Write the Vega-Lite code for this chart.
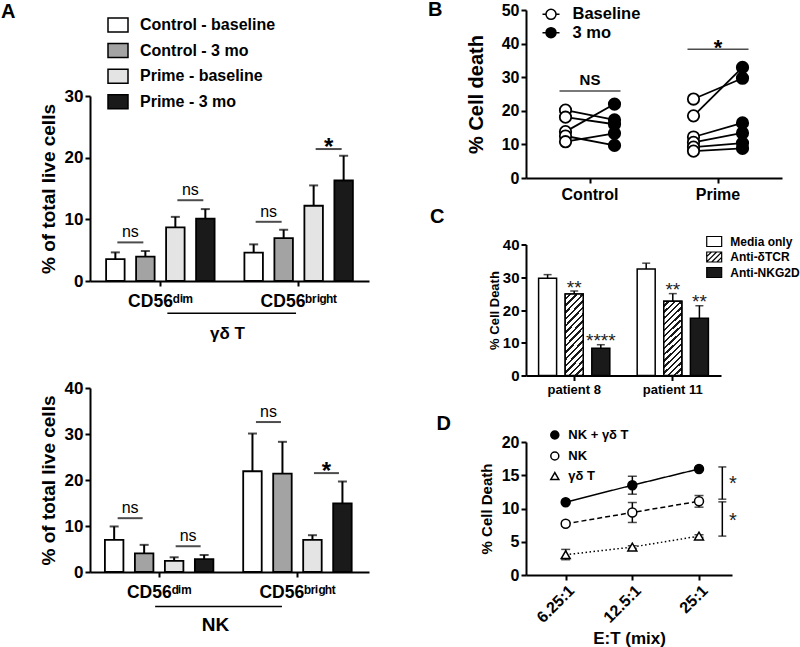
{
"$schema": "https://vega.github.io/schema/vega-lite/v6.json",
"background": "white",
"padding": {"left": 1, "top": 0, "right": 0, "bottom": 0},
"config": {
  "font": "Liberation Sans",
  "view": {"stroke": null},
  "axis": {"grid": false, "domainColor": "black", "domainWidth": 2, "tickColor": "black", "tickWidth": 2, "tickSize": 5, "labelFont": "Liberation Sans", "labelFontWeight": "bold", "labelColor": "black", "titleFont": "Liberation Sans", "titleFontWeight": "bold", "titleColor": "black", "labelPadding": 2, "labelOverlap": false},
  "legend": {"labelFont": "Liberation Sans", "labelFontWeight": "bold", "labelColor": "black", "padding": 0, "symbolStrokeColor": "black", "symbolStrokeWidth": 1.5, "symbolOpacity": 1},
  "title": {"font": "Liberation Sans", "fontWeight": "bold", "fontSize": 20, "color": "black", "anchor": "start", "frame": "group"}
},
"datasets": {
  "aTop": [
    {"cell": "CD56dim", "group": "Control - baseline", "mean": 3.56, "upper": 4.64},
    {"cell": "CD56dim", "group": "Control - 3 mo", "mean": 3.94, "upper": 4.86},
    {"cell": "CD56dim", "group": "Prime - baseline", "mean": 8.69, "upper": 10.4},
    {"cell": "CD56dim", "group": "Prime - 3 mo", "mean": 10.1, "upper": 11.66},
    {"cell": "CD56bright", "group": "Control - baseline", "mean": 4.59, "upper": 5.94},
    {"cell": "CD56bright", "group": "Control - 3 mo", "mean": 6.96, "upper": 8.31},
    {"cell": "CD56bright", "group": "Prime - baseline", "mean": 12.2, "upper": 15.5},
    {"cell": "CD56bright", "group": "Prime - 3 mo", "mean": 16.3, "upper": 20.3}
  ],
  "aTopSig": [
    {"cell": "CD56dim", "pair": "1v2", "y": 6.26, "label": "ns"},
    {"cell": "CD56dim", "pair": "3v4", "y": 13.1, "label": "ns"},
    {"cell": "CD56bright", "pair": "1v2", "y": 9.6, "label": "ns"},
    {"cell": "CD56bright", "pair": "3v4", "y": 21.4, "label": "*"}
  ],
  "aBot": [
    {"cell": "CD56dim", "group": "Control - baseline", "mean": 7.0, "upper": 9.9},
    {"cell": "CD56dim", "group": "Control - 3 mo", "mean": 4.06, "upper": 5.9},
    {"cell": "CD56dim", "group": "Prime - baseline", "mean": 2.4, "upper": 3.2},
    {"cell": "CD56dim", "group": "Prime - 3 mo", "mean": 2.8, "upper": 3.7},
    {"cell": "CD56bright", "group": "Control - baseline", "mean": 21.9, "upper": 30.1},
    {"cell": "CD56bright", "group": "Control - 3 mo", "mean": 21.4, "upper": 28.3},
    {"cell": "CD56bright", "group": "Prime - baseline", "mean": 7.0, "upper": 8.0},
    {"cell": "CD56bright", "group": "Prime - 3 mo", "mean": 14.9, "upper": 19.7}
  ],
  "aBotSig": [
    {"cell": "CD56dim", "pair": "1v2", "y": 11.7, "label": "ns"},
    {"cell": "CD56dim", "pair": "3v4", "y": 5.6, "label": "ns"},
    {"cell": "CD56bright", "pair": "1v2", "y": 32.6, "label": "ns"},
    {"cell": "CD56bright", "pair": "3v4", "y": 21.5, "label": "*"}
  ],
  "bData": [
    {"group": "Control", "time": "Baseline", "pair": "c1", "value": 20.2},
    {"group": "Control", "time": "3 mo", "pair": "c1", "value": 17.3},
    {"group": "Control", "time": "Baseline", "pair": "c2", "value": 18.1},
    {"group": "Control", "time": "3 mo", "pair": "c2", "value": 16.0},
    {"group": "Control", "time": "Baseline", "pair": "c3", "value": 13.8},
    {"group": "Control", "time": "3 mo", "pair": "c3", "value": 22.0},
    {"group": "Control", "time": "Baseline", "pair": "c4", "value": 12.5},
    {"group": "Control", "time": "3 mo", "pair": "c4", "value": 9.7},
    {"group": "Control", "time": "Baseline", "pair": "c5", "value": 10.8},
    {"group": "Control", "time": "3 mo", "pair": "c5", "value": 13.3},
    {"group": "Prime", "time": "Baseline", "pair": "p1", "value": 23.5},
    {"group": "Prime", "time": "3 mo", "pair": "p1", "value": 29.7},
    {"group": "Prime", "time": "Baseline", "pair": "p2", "value": 18.5},
    {"group": "Prime", "time": "3 mo", "pair": "p2", "value": 32.9},
    {"group": "Prime", "time": "Baseline", "pair": "p3", "value": 12.2},
    {"group": "Prime", "time": "3 mo", "pair": "p3", "value": 16.4},
    {"group": "Prime", "time": "Baseline", "pair": "p4", "value": 10.6},
    {"group": "Prime", "time": "3 mo", "pair": "p4", "value": 13.4},
    {"group": "Prime", "time": "Baseline", "pair": "p5", "value": 9.2},
    {"group": "Prime", "time": "3 mo", "pair": "p5", "value": 10.4},
    {"group": "Prime", "time": "Baseline", "pair": "p6", "value": 8.0},
    {"group": "Prime", "time": "3 mo", "pair": "p6", "value": 8.8}
  ],
  "bSig": [
    {"group": "Control", "y": 25.9, "label": "NS"},
    {"group": "Prime", "y": 38.3, "label": "*"}
  ],
  "cData": [
    {"patient": "patient 8", "treatment": "Media only", "mean": 29.7, "upper": 30.8, "sig": ""},
    {"patient": "patient 8", "treatment": "Anti-δTCR", "mean": 24.9, "upper": 25.8, "sig": "**"},
    {"patient": "patient 8", "treatment": "Anti-NKG2D", "mean": 8.35, "upper": 9.4, "sig": "****"},
    {"patient": "patient 11", "treatment": "Media only", "mean": 32.5, "upper": 34.3, "sig": ""},
    {"patient": "patient 11", "treatment": "Anti-δTCR", "mean": 22.7, "upper": 25.0, "sig": "**"},
    {"patient": "patient 11", "treatment": "Anti-NKG2D", "mean": 17.5, "upper": 21.3, "sig": "**"}
  ],
  "dData": [
    {"ratio": "6.25:1", "series": "NK + γδ T", "mean": 10.95, "lower": 10.7, "upper": 11.2},
    {"ratio": "12.5:1", "series": "NK + γδ T", "mean": 13.5, "lower": 12.15, "upper": 14.85},
    {"ratio": "25:1", "series": "NK + γδ T", "mean": 15.95, "lower": 15.75, "upper": 16.15},
    {"ratio": "6.25:1", "series": "NK", "mean": 7.7, "lower": 7.35, "upper": 8.05},
    {"ratio": "12.5:1", "series": "NK", "mean": 9.4, "lower": 7.9, "upper": 10.9},
    {"ratio": "25:1", "series": "NK", "mean": 11.1, "lower": 10.2, "upper": 11.95},
    {"ratio": "6.25:1", "series": "γδ T", "mean": 3.05, "lower": 2.3, "upper": 3.85},
    {"ratio": "12.5:1", "series": "γδ T", "mean": 4.2, "lower": 4.0, "upper": 4.4},
    {"ratio": "25:1", "series": "γδ T", "mean": 5.85, "lower": 5.65, "upper": 6.05}
  ],
  "dSig": [
    {"top": 16.25, "bottom": 11.4, "label": "*"},
    {"top": 11.0, "bottom": 5.85, "label": "*"}
  ]
},
"concat": [
  {
    "concat": [
      {
        "width": 279, "height": 1,
        "title": {"text": "A", "dx": -89, "offset": -11.8},
        "data": {"values": []},
        "mark": {"type": "point"},
        "encoding": {}
      },
      {
        "concat": [
          {
            "width": 279, "height": 185,
            "data": {"name": "aTop"},
            "resolve": {"scale": {"xOffset": "independent"}},
            "layer": [
              {
                "mark": {"type": "bar", "stroke": "black", "strokeWidth": 1.8},
                "encoding": {
                  "x": {"field": "cell", "type": "nominal", "sort": ["CD56dim", "CD56bright"], "scale": {"domain": ["CD56dim", "CD56bright"], "paddingInner": 0, "paddingOuter": 0.0087},
                        "axis": {"title": "γδ T", "titleFontSize": 17, "titlePadding": 16, "titleX": 137, "labelExpr": "datum.value === 'CD56dim' ? 'CD56ᵈⁱᵐ' : 'CD56ᵇʳⁱᵍʰᵗ'", "labelFontSize": 17.5, "labelPadding": 6, "labelAngle": 0, "labelOverlap": false}},
                  "xOffset": {"field": "group", "type": "nominal", "sort": ["Control - baseline", "Control - 3 mo", "Prime - baseline", "Prime - 3 mo"], "scale": {"type": "band", "paddingInner": 0.383, "paddingOuter": 0.497}},
                  "y": {"field": "mean", "type": "quantitative", "scale": {"domain": [0, 30]},
                        "axis": {"values": [0, 10, 20, 30], "tickCount": 10, "title": "% of total live cells", "titleFontSize": 19, "titlePadding": 6, "labelFontSize": 17, "labelOverlap": false}},
                  "fill": {"field": "group", "type": "nominal",
                           "scale": {"domain": ["Control - baseline", "Control - 3 mo", "Prime - baseline", "Prime - 3 mo"], "range": ["white", "#a3a3a3", "#e4e4e4", "#1a1a1a"]},
                           "legend": {"title": null, "orient": "none", "legendX": 17, "legendY": -82, "symbolType": "M-1,-0.7H1V0.7H-1Z", "symbolSize": 400, "labelFontSize": 16, "labelOffset": 11, "rowPadding": 4.6}}
                }
              },
              {
                "mark": {"type": "rule", "color": "black", "strokeWidth": 2},
                "encoding": {
                  "x": {"field": "cell", "type": "nominal", "sort": ["CD56dim", "CD56bright"]},
                  "xOffset": {"field": "group", "type": "nominal", "sort": ["Control - baseline", "Control - 3 mo", "Prime - baseline", "Prime - 3 mo"], "scale": {"type": "band", "paddingInner": 0.383, "paddingOuter": 0.497}},
                  "y": {"field": "mean", "type": "quantitative"},
                  "y2": {"field": "upper"}
                }
              },
              {
                "mark": {"type": "tick", "orient": "horizontal", "size": 9, "thickness": 2, "color": "black"},
                "encoding": {
                  "x": {"field": "cell", "type": "nominal", "sort": ["CD56dim", "CD56bright"]},
                  "xOffset": {"field": "group", "type": "nominal", "sort": ["Control - baseline", "Control - 3 mo", "Prime - baseline", "Prime - 3 mo"], "scale": {"type": "band", "paddingInner": 0.383, "paddingOuter": 0.497}},
                  "y": {"field": "upper", "type": "quantitative"}
                }
              },
              {
                "data": {"name": "aTopSig"},
                "mark": {"type": "tick", "orient": "horizontal", "size": 26, "thickness": 2, "color": "black"},
                "encoding": {
                  "x": {"field": "cell", "type": "nominal", "sort": ["CD56dim", "CD56bright"]},
                  "xOffset": {"field": "pair", "type": "nominal", "scale": {"type": "band", "domain": ["1v2", "3v4"], "paddingInner": 0, "paddingOuter": 0.1525}},
                  "y": {"field": "y", "type": "quantitative"}
                }
              },
              {
                "data": {"name": "aTopSig"},
                "transform": [{"filter": "datum.label === 'ns'"}],
                "mark": {"type": "text", "fontSize": 16, "baseline": "alphabetic", "dy": -5, "color": "black"},
                "encoding": {
                  "x": {"field": "cell", "type": "nominal", "sort": ["CD56dim", "CD56bright"]},
                  "xOffset": {"field": "pair", "type": "nominal", "scale": {"type": "band", "domain": ["1v2", "3v4"], "paddingInner": 0, "paddingOuter": 0.1525}},
                  "y": {"field": "y", "type": "quantitative"},
                  "text": {"field": "label"}
                }
              },
              {
                "data": {"name": "aTopSig"},
                "transform": [{"filter": "datum.label === '*'"}],
                "mark": {"type": "text", "fontSize": 24, "fontWeight": "bold", "baseline": "alphabetic", "dy": 6, "color": "black"},
                "encoding": {
                  "x": {"field": "cell", "type": "nominal", "sort": ["CD56dim", "CD56bright"]},
                  "xOffset": {"field": "pair", "type": "nominal", "scale": {"type": "band", "domain": ["1v2", "3v4"], "paddingInner": 0, "paddingOuter": 0.1525}},
                  "y": {"field": "y", "type": "quantitative"},
                  "text": {"field": "label"}
                }
              },
              {
                "data": {"values": [{"subset": "γδ T"}]},
                "mark": {"type": "rule", "color": "black", "strokeWidth": 1.5, "xOffset": 7, "x2Offset": -2.6},
                "encoding": {
                  "x": {"datum": "CD56dim", "type": "nominal"},
                  "x2": {"datum": "CD56bright"},
                  "y": {"datum": -5.23, "type": "quantitative"}
                }
              }
            ]
          },
          {
            "width": 279, "height": 184,
            "data": {"name": "aBot"},
            "resolve": {"scale": {"xOffset": "independent"}},
            "layer": [
              {
                "mark": {"type": "bar", "stroke": "black", "strokeWidth": 1.8},
                "encoding": {
                  "x": {"field": "cell", "type": "nominal", "sort": ["CD56dim", "CD56bright"], "scale": {"domain": ["CD56dim", "CD56bright"], "paddingInner": 0, "paddingOuter": 0.0087, "align": 0},
                        "axis": {"title": "NK", "titleFontSize": 19, "titlePadding": 15, "titleX": 125, "labelExpr": "datum.value === 'CD56dim' ? 'CD56ᵈⁱᵐ' : 'CD56ᵇʳⁱᵍʰᵗ'", "labelFontSize": 17.5, "labelPadding": 6, "labelAngle": 0, "labelOverlap": false}},
                  "xOffset": {"field": "group", "type": "nominal", "sort": ["Control - baseline", "Control - 3 mo", "Prime - baseline", "Prime - 3 mo"], "scale": {"type": "band", "paddingInner": 0.383, "paddingOuter": 0.497}},
                  "y": {"field": "mean", "type": "quantitative", "scale": {"domain": [0, 40]},
                        "axis": {"values": [0, 10, 20, 30, 40], "tickCount": 10, "title": "% of total live cells", "titleFontSize": 19, "titlePadding": 6, "labelFontSize": 17, "labelOverlap": false}},
                  "fill": {"field": "group", "type": "nominal",
                           "scale": {"domain": ["Control - baseline", "Control - 3 mo", "Prime - baseline", "Prime - 3 mo"], "range": ["white", "#a3a3a3", "#e4e4e4", "#1a1a1a"]},
                           "legend": null}
                }
              },
              {
                "mark": {"type": "rule", "color": "black", "strokeWidth": 2},
                "encoding": {
                  "x": {"field": "cell", "type": "nominal", "sort": ["CD56dim", "CD56bright"]},
                  "xOffset": {"field": "group", "type": "nominal", "sort": ["Control - baseline", "Control - 3 mo", "Prime - baseline", "Prime - 3 mo"], "scale": {"type": "band", "paddingInner": 0.383, "paddingOuter": 0.497}},
                  "y": {"field": "mean", "type": "quantitative"},
                  "y2": {"field": "upper"}
                }
              },
              {
                "mark": {"type": "tick", "orient": "horizontal", "size": 9, "thickness": 2, "color": "black"},
                "encoding": {
                  "x": {"field": "cell", "type": "nominal", "sort": ["CD56dim", "CD56bright"]},
                  "xOffset": {"field": "group", "type": "nominal", "sort": ["Control - baseline", "Control - 3 mo", "Prime - baseline", "Prime - 3 mo"], "scale": {"type": "band", "paddingInner": 0.383, "paddingOuter": 0.497}},
                  "y": {"field": "upper", "type": "quantitative"}
                }
              },
              {
                "data": {"name": "aBotSig"},
                "mark": {"type": "tick", "orient": "horizontal", "size": 25, "thickness": 2, "color": "black"},
                "encoding": {
                  "x": {"field": "cell", "type": "nominal", "sort": ["CD56dim", "CD56bright"]},
                  "xOffset": {"field": "pair", "type": "nominal", "scale": {"type": "band", "domain": ["1v2", "3v4"], "paddingInner": 0, "paddingOuter": 0.192}},
                  "y": {"field": "y", "type": "quantitative"}
                }
              },
              {
                "data": {"name": "aBotSig"},
                "transform": [{"filter": "datum.label === 'ns'"}],
                "mark": {"type": "text", "fontSize": 16, "baseline": "alphabetic", "dy": -5, "color": "black"},
                "encoding": {
                  "x": {"field": "cell", "type": "nominal", "sort": ["CD56dim", "CD56bright"]},
                  "xOffset": {"field": "pair", "type": "nominal", "scale": {"type": "band", "domain": ["1v2", "3v4"], "paddingInner": 0, "paddingOuter": 0.192}},
                  "y": {"field": "y", "type": "quantitative"},
                  "text": {"field": "label"}
                }
              },
              {
                "data": {"name": "aBotSig"},
                "transform": [{"filter": "datum.label === '*'"}],
                "mark": {"type": "text", "fontSize": 24, "fontWeight": "bold", "baseline": "alphabetic", "dy": 6, "color": "black"},
                "encoding": {
                  "x": {"field": "cell", "type": "nominal", "sort": ["CD56dim", "CD56bright"]},
                  "xOffset": {"field": "pair", "type": "nominal", "scale": {"type": "band", "domain": ["1v2", "3v4"], "paddingInner": 0, "paddingOuter": 0.192}},
                  "y": {"field": "y", "type": "quantitative"},
                  "text": {"field": "label"}
                }
              },
              {
                "data": {"values": [{"subset": "NK"}]},
                "mark": {"type": "rule", "color": "black", "strokeWidth": 1.5, "xOffset": -4, "x2Offset": -15.5},
                "encoding": {
                  "x": {"datum": "CD56dim", "type": "nominal"},
                  "x2": {"datum": "CD56bright"},
                  "y": {"datum": -7.48, "type": "quantitative"}
                }
              }
            ]
          }
        ],
        "columns": 1,
        "bounds": "flush",
        "spacing": 107,
        "resolve": {"scale": {"fill": "independent", "xOffset": "independent", "shape": "independent", "strokeDash": "independent"}}
      }
    ],
    "columns": 1,
    "bounds": "flush",
    "spacing": 85,
    "resolve": {"scale": {"fill": "independent", "xOffset": "independent", "shape": "independent", "strokeDash": "independent"}}
  },
  {
    "concat": [
      {
        "width": 256, "height": 168,
        "title": {"text": "B", "dx": -98, "offset": -18.2},
        "data": {"name": "bData"},
        "layer": [
          {
            "mark": {"type": "line", "color": "black", "strokeWidth": 1.8},
            "encoding": {
              "x": {"field": "group", "type": "nominal", "sort": ["Control", "Prime"], "scale": {"domain": ["Control", "Prime"], "paddingInner": 0, "paddingOuter": 0},
                    "axis": {"title": null, "labelFontSize": 16, "labelPadding": 3, "labelAngle": 0, "labelOverlap": false}},
              "xOffset": {"field": "time", "type": "nominal", "sort": ["Baseline", "3 mo"], "scale": {"type": "band", "paddingInner": 0, "paddingOuter": 0.306}},
              "y": {"field": "value", "type": "quantitative", "scale": {"domain": [0, 50]},
                    "axis": {"values": [0, 10, 20, 30, 40, 50], "tickCount": 10, "title": "% Cell death", "titleFontSize": 20, "titlePadding": 15, "labelFontSize": 16, "labelOverlap": false}},
              "detail": {"field": "pair", "type": "nominal"}
            }
          },
          {
            "mark": {"type": "point", "filled": true, "size": 130, "stroke": "black", "strokeWidth": 1.8, "opacity": 1},
            "encoding": {
              "x": {"field": "group", "type": "nominal", "sort": ["Control", "Prime"]},
              "xOffset": {"field": "time", "type": "nominal", "sort": ["Baseline", "3 mo"], "scale": {"type": "band", "paddingInner": 0, "paddingOuter": 0.306}},
              "y": {"field": "value", "type": "quantitative"},
              "fill": {"field": "time", "type": "nominal", "scale": {"domain": ["Baseline", "3 mo"], "range": ["white", "black"]},
                       "legend": {"title": null, "orient": "none", "legendX": 15.5, "legendY": -5.2, "symbolType": "M-1,0H-0.59M0.59,0H1M-0.59,0A0.59,0.59,0,1,0,0.59,0A0.59,0.59,0,1,0,-0.59,0Z", "symbolSize": 289, "labelFontSize": 16.5, "labelOffset": 12, "rowPadding": 0.4}}
            }
          },
          {
            "data": {"name": "bSig"},
            "mark": {"type": "tick", "orient": "horizontal", "size": 61, "thickness": 1.5, "color": "black"},
            "encoding": {
              "x": {"field": "group", "type": "nominal", "sort": ["Control", "Prime"]},
              "y": {"field": "y", "type": "quantitative"}
            }
          },
          {
            "data": {"name": "bSig"},
            "transform": [{"filter": "datum.label === 'NS'"}],
            "mark": {"type": "text", "fontSize": 15, "fontWeight": "bold", "baseline": "alphabetic", "dy": -5.7, "color": "black"},
            "encoding": {
              "x": {"field": "group", "type": "nominal", "sort": ["Control", "Prime"]},
              "y": {"field": "y", "type": "quantitative"},
              "text": {"field": "label"}
            }
          },
          {
            "data": {"name": "bSig"},
            "transform": [{"filter": "datum.label === '*'"}],
            "mark": {"type": "text", "fontSize": 22, "fontWeight": "bold", "baseline": "alphabetic", "dy": 5.7, "color": "black"},
            "encoding": {
              "x": {"field": "group", "type": "nominal", "sort": ["Control", "Prime"]},
              "y": {"field": "y", "type": "quantitative"},
              "text": {"field": "label"}
            }
          }
        ]
      },
      {
        "width": 195, "height": 131,
        "title": {"text": "C", "dx": -96, "offset": 7},
        "data": {"name": "cData"},
        "layer": [
          {
            "mark": {"type": "bar", "stroke": "black", "strokeWidth": 1.5},
            "encoding": {
              "x": {"field": "patient", "type": "nominal", "sort": ["patient 8", "patient 11"], "scale": {"domain": ["patient 8", "patient 11"], "paddingInner": 0.022, "paddingOuter": 0},
                    "axis": {"title": null, "labelFontSize": 13, "labelPadding": 3, "labelAngle": 0, "labelOverlap": false}},
              "xOffset": {"field": "treatment", "type": "nominal", "sort": ["Media only", "Anti-δTCR", "Anti-NKG2D"], "scale": {"type": "band", "paddingInner": 0.323, "paddingOuter": 0.4735}},
              "y": {"field": "mean", "type": "quantitative", "scale": {"domain": [0, 40]},
                    "axis": {"values": [0, 10, 20, 30, 40], "tickCount": 10, "title": "% Cell Death", "titleFontSize": 13, "titlePadding": 1, "labelFontSize": 15, "labelOverlap": false}},
              "fill": {"field": "treatment", "type": "nominal", "scale": {"domain": ["Media only", "Anti-δTCR", "Anti-NKG2D"], "range": ["white", "white", "#1a1a1a"]},
                       "legend": {"title": null, "orient": "none", "legendX": 180.7, "legendY": -10.5, "symbolType": "M-1.15,-0.77H1.15V0.77H-1.15Z", "symbolSize": 169, "symbolFillColor": "white", "symbolStrokeColor": "black", "labelFontSize": 12, "labelOffset": 8.6, "rowPadding": 0.5, "symbolStrokeWidth": 1.2}}
            }
          },
          {
            "transform": [{"filter": "datum.treatment === 'Anti-δTCR'"}],
            "mark": {"type": "bar", "stroke": "black", "strokeWidth": 1.5,
                     "fill": {"gradient": "linear", "x1": 0, "y1": 0, "x2": 0.27, "y2": 1.169, "stops": [
                       {"offset": 0, "color": "white"}, {"offset": 0.0413, "color": "white"}, {"offset": 0.0413, "color": "#1a1a1a"}, {"offset": 0.0667, "color": "#1a1a1a"},
                       {"offset": 0.0667, "color": "white"}, {"offset": 0.108, "color": "white"}, {"offset": 0.108, "color": "#1a1a1a"}, {"offset": 0.1333, "color": "#1a1a1a"},
                       {"offset": 0.1333, "color": "white"}, {"offset": 0.1747, "color": "white"}, {"offset": 0.1747, "color": "#1a1a1a"}, {"offset": 0.2, "color": "#1a1a1a"},
                       {"offset": 0.2, "color": "white"}, {"offset": 0.2413, "color": "white"}, {"offset": 0.2413, "color": "#1a1a1a"}, {"offset": 0.2667, "color": "#1a1a1a"},
                       {"offset": 0.2667, "color": "white"}, {"offset": 0.308, "color": "white"}, {"offset": 0.308, "color": "#1a1a1a"}, {"offset": 0.3333, "color": "#1a1a1a"},
                       {"offset": 0.3333, "color": "white"}, {"offset": 0.3747, "color": "white"}, {"offset": 0.3747, "color": "#1a1a1a"}, {"offset": 0.4, "color": "#1a1a1a"},
                       {"offset": 0.4, "color": "white"}, {"offset": 0.4413, "color": "white"}, {"offset": 0.4413, "color": "#1a1a1a"}, {"offset": 0.4667, "color": "#1a1a1a"},
                       {"offset": 0.4667, "color": "white"}, {"offset": 0.508, "color": "white"}, {"offset": 0.508, "color": "#1a1a1a"}, {"offset": 0.5333, "color": "#1a1a1a"},
                       {"offset": 0.5333, "color": "white"}, {"offset": 0.5747, "color": "white"}, {"offset": 0.5747, "color": "#1a1a1a"}, {"offset": 0.6, "color": "#1a1a1a"},
                       {"offset": 0.6, "color": "white"}, {"offset": 0.6413, "color": "white"}, {"offset": 0.6413, "color": "#1a1a1a"}, {"offset": 0.6667, "color": "#1a1a1a"},
                       {"offset": 0.6667, "color": "white"}, {"offset": 0.708, "color": "white"}, {"offset": 0.708, "color": "#1a1a1a"}, {"offset": 0.7333, "color": "#1a1a1a"},
                       {"offset": 0.7333, "color": "white"}, {"offset": 0.7747, "color": "white"}, {"offset": 0.7747, "color": "#1a1a1a"}, {"offset": 0.8, "color": "#1a1a1a"},
                       {"offset": 0.8, "color": "white"}, {"offset": 0.8413, "color": "white"}, {"offset": 0.8413, "color": "#1a1a1a"}, {"offset": 0.8667, "color": "#1a1a1a"},
                       {"offset": 0.8667, "color": "white"}, {"offset": 0.908, "color": "white"}, {"offset": 0.908, "color": "#1a1a1a"}, {"offset": 0.9333, "color": "#1a1a1a"},
                       {"offset": 0.9333, "color": "white"}, {"offset": 0.9747, "color": "white"}, {"offset": 0.9747, "color": "#1a1a1a"}, {"offset": 1, "color": "#1a1a1a"}]}},
            "encoding": {
              "x": {"field": "patient", "type": "nominal", "sort": ["patient 8", "patient 11"]},
              "xOffset": {"field": "treatment", "type": "nominal", "sort": ["Media only", "Anti-δTCR", "Anti-NKG2D"], "scale": {"type": "band", "paddingInner": 0.323, "paddingOuter": 0.4735}},
              "y": {"field": "mean", "type": "quantitative"}
            }
          },
          {
            "mark": {"type": "point", "size": 0, "opacity": 0, "filled": true},
            "encoding": {
              "x": {"field": "patient", "type": "nominal", "sort": ["patient 8", "patient 11"]},
              "xOffset": {"field": "treatment", "type": "nominal", "sort": ["Media only", "Anti-δTCR", "Anti-NKG2D"], "scale": {"type": "band", "paddingInner": 0.323, "paddingOuter": 0.4735}},
              "y": {"field": "mean", "type": "quantitative"},
              "fill": {"field": "treatment", "type": "nominal",
                       "legend": {"title": null, "orient": "none", "legendX": 180.7, "legendY": -10.5, "symbolType": "M-1.15,-0.77H1.15V0.77H-1.15Z", "symbolSize": 169, "symbolFillColor": "white", "symbolStrokeColor": "black", "labelFontSize": 12, "labelOffset": 8.6, "rowPadding": 0.5, "symbolStrokeWidth": 1.2}},
              "shape": {"field": "treatment", "type": "nominal",
                        "scale": {"domain": ["Media only", "Anti-δTCR", "Anti-NKG2D"], "range": ["M-1.15,-0.77H1.15V0.77H-1.15Z", "M-1.15,-0.77H1.15V0.77H-1.15ZM-1.15,-0.05L-0.43,-0.77M-1.15,0.75L0.37,-0.77M-0.37,0.77L1.15,-0.75M0.43,0.77L1.15,0.05", "M-1.15,-0.77H1.15V0.77H-1.15Z"]},
                        "legend": {"title": null, "orient": "none", "legendX": 180.7, "legendY": -10.5, "symbolType": "M-1.15,-0.77H1.15V0.77H-1.15Z", "symbolSize": 169, "symbolFillColor": "white", "symbolStrokeColor": "black", "labelFontSize": 12, "labelOffset": 8.6, "rowPadding": 0.5, "symbolStrokeWidth": 1.2}}
            }
          },
          {
            "mark": {"type": "rule", "color": "black", "strokeWidth": 1.5},
            "encoding": {
              "x": {"field": "patient", "type": "nominal", "sort": ["patient 8", "patient 11"]},
              "xOffset": {"field": "treatment", "type": "nominal", "sort": ["Media only", "Anti-δTCR", "Anti-NKG2D"], "scale": {"type": "band", "paddingInner": 0.323, "paddingOuter": 0.4735}},
              "y": {"field": "mean", "type": "quantitative"},
              "y2": {"field": "upper"}
            }
          },
          {
            "mark": {"type": "tick", "orient": "horizontal", "size": 8, "thickness": 1.5, "color": "black"},
            "encoding": {
              "x": {"field": "patient", "type": "nominal", "sort": ["patient 8", "patient 11"]},
              "xOffset": {"field": "treatment", "type": "nominal", "sort": ["Media only", "Anti-δTCR", "Anti-NKG2D"], "scale": {"type": "band", "paddingInner": 0.323, "paddingOuter": 0.4735}},
              "y": {"field": "upper", "type": "quantitative"}
            }
          },
          {
            "transform": [{"filter": "datum.sig !== ''"}],
            "mark": {"type": "text", "fontSize": 19, "baseline": "alphabetic", "dy": 2.7, "color": "#222222"},
            "encoding": {
              "x": {"field": "patient", "type": "nominal", "sort": ["patient 8", "patient 11"]},
              "xOffset": {"field": "treatment", "type": "nominal", "sort": ["Media only", "Anti-δTCR", "Anti-NKG2D"], "scale": {"type": "band", "paddingInner": 0.323, "paddingOuter": 0.4735}},
              "y": {"field": "upper", "type": "quantitative"},
              "text": {"field": "sig"}
            }
          }
        ]
      },
      {
        "width": 206, "height": 133,
        "title": {"text": "D", "dx": -89.5, "offset": -5.5},
        "data": {"name": "dData"},
        "layer": [
          {
            "mark": {"type": "line", "color": "black", "strokeWidth": 1.5},
            "encoding": {
              "x": {"field": "ratio", "type": "ordinal", "sort": ["6.25:1", "12.5:1", "25:1"], "scale": {"type": "point", "domain": ["6.25:1", "12.5:1", "25:1"], "padding": 0.545, "align": 0.546},
                    "axis": {"title": "E:T (mix)", "titleFontSize": 17, "titlePadding": 5, "labelAngle": -45, "labelFontSize": 16, "labelPadding": 2, "labelOverlap": false}},
              "y": {"field": "mean", "type": "quantitative", "scale": {"domain": [0, 20]},
                    "axis": {"values": [0, 5, 10, 15, 20], "tickCount": 10, "title": "% Cell Death", "titleFontSize": 15, "titlePadding": 7, "labelFontSize": 16, "labelOverlap": false}},
              "strokeDash": {"field": "series", "type": "nominal", "scale": {"domain": ["NK", "NK + γδ T", "γδ T"], "range": [[5, 3], [1, 0], [1.5, 2.5]]}, "legend": null}
            }
          },
          {
            "mark": {"type": "rule", "color": "black", "strokeWidth": 1.5},
            "encoding": {
              "x": {"field": "ratio", "type": "ordinal", "sort": ["6.25:1", "12.5:1", "25:1"]},
              "y": {"field": "lower", "type": "quantitative"},
              "y2": {"field": "upper"}
            }
          },
          {
            "mark": {"type": "tick", "orient": "horizontal", "size": 9, "thickness": 1.5, "color": "black"},
            "encoding": {
              "x": {"field": "ratio", "type": "ordinal", "sort": ["6.25:1", "12.5:1", "25:1"]},
              "y": {"field": "upper", "type": "quantitative"}
            }
          },
          {
            "mark": {"type": "tick", "orient": "horizontal", "size": 9, "thickness": 1.5, "color": "black"},
            "encoding": {
              "x": {"field": "ratio", "type": "ordinal", "sort": ["6.25:1", "12.5:1", "25:1"]},
              "y": {"field": "lower", "type": "quantitative"}
            }
          },
          {
            "mark": {"type": "point", "filled": true, "size": 80, "stroke": "black", "strokeWidth": 1.5, "opacity": 1},
            "encoding": {
              "x": {"field": "ratio", "type": "ordinal", "sort": ["6.25:1", "12.5:1", "25:1"]},
              "y": {"field": "mean", "type": "quantitative"},
              "shape": {"field": "series", "type": "nominal", "scale": {"domain": ["NK + γδ T", "NK", "γδ T"], "range": ["circle", "circle", "triangle-up"]},
                        "legend": {"title": null, "orient": "none", "legendX": 22.3, "legendY": -13.5, "symbolSize": 64, "symbolFillColor": "white", "symbolStrokeColor": "black", "labelFontSize": 13, "labelOffset": 7, "rowPadding": 6}},
              "fill": {"field": "series", "type": "nominal", "scale": {"domain": ["NK + γδ T", "NK", "γδ T"], "range": ["black", "white", "white"]},
                       "legend": {"title": null, "orient": "none", "legendX": 22.3, "legendY": -13.5, "symbolSize": 64, "symbolFillColor": "white", "symbolStrokeColor": "black", "labelFontSize": 13, "labelOffset": 7, "rowPadding": 6}}
            }
          },
          {
            "data": {"name": "dSig"},
            "mark": {"type": "rule", "color": "black", "strokeWidth": 1.5, "xOffset": 23.3},
            "encoding": {
              "x": {"datum": "25:1", "type": "ordinal"},
              "y": {"field": "top", "type": "quantitative"},
              "y2": {"field": "bottom"}
            }
          },
          {
            "data": {"name": "dSig"},
            "mark": {"type": "tick", "orient": "horizontal", "size": 8, "thickness": 1.5, "color": "black", "xOffset": 23.3},
            "encoding": {
              "x": {"datum": "25:1", "type": "ordinal"},
              "y": {"field": "top", "type": "quantitative"}
            }
          },
          {
            "data": {"name": "dSig"},
            "mark": {"type": "tick", "orient": "horizontal", "size": 8, "thickness": 1.5, "color": "black", "xOffset": 23.3},
            "encoding": {
              "x": {"datum": "25:1", "type": "ordinal"},
              "y": {"field": "bottom", "type": "quantitative"}
            }
          },
          {
            "data": {"name": "dSig"},
            "mark": {"type": "text", "fontSize": 20, "baseline": "middle", "dy": -15, "xOffset": 34, "color": "#222222"},
            "encoding": {
              "x": {"datum": "25:1", "type": "ordinal"},
              "y": {"field": "bottom", "type": "quantitative"},
              "text": {"field": "label"}
            }
          }
        ]
      }
    ],
    "columns": 1,
    "bounds": "flush",
    "spacing": 66.5,
    "resolve": {"scale": {"fill": "independent", "xOffset": "independent", "shape": "independent", "strokeDash": "independent"}}
  }
],
"columns": 2,
"align": "none",
"bounds": "full",
"spacing": 59,
"resolve": {"scale": {"fill": "independent", "xOffset": "independent", "shape": "independent", "strokeDash": "independent"}}
}
